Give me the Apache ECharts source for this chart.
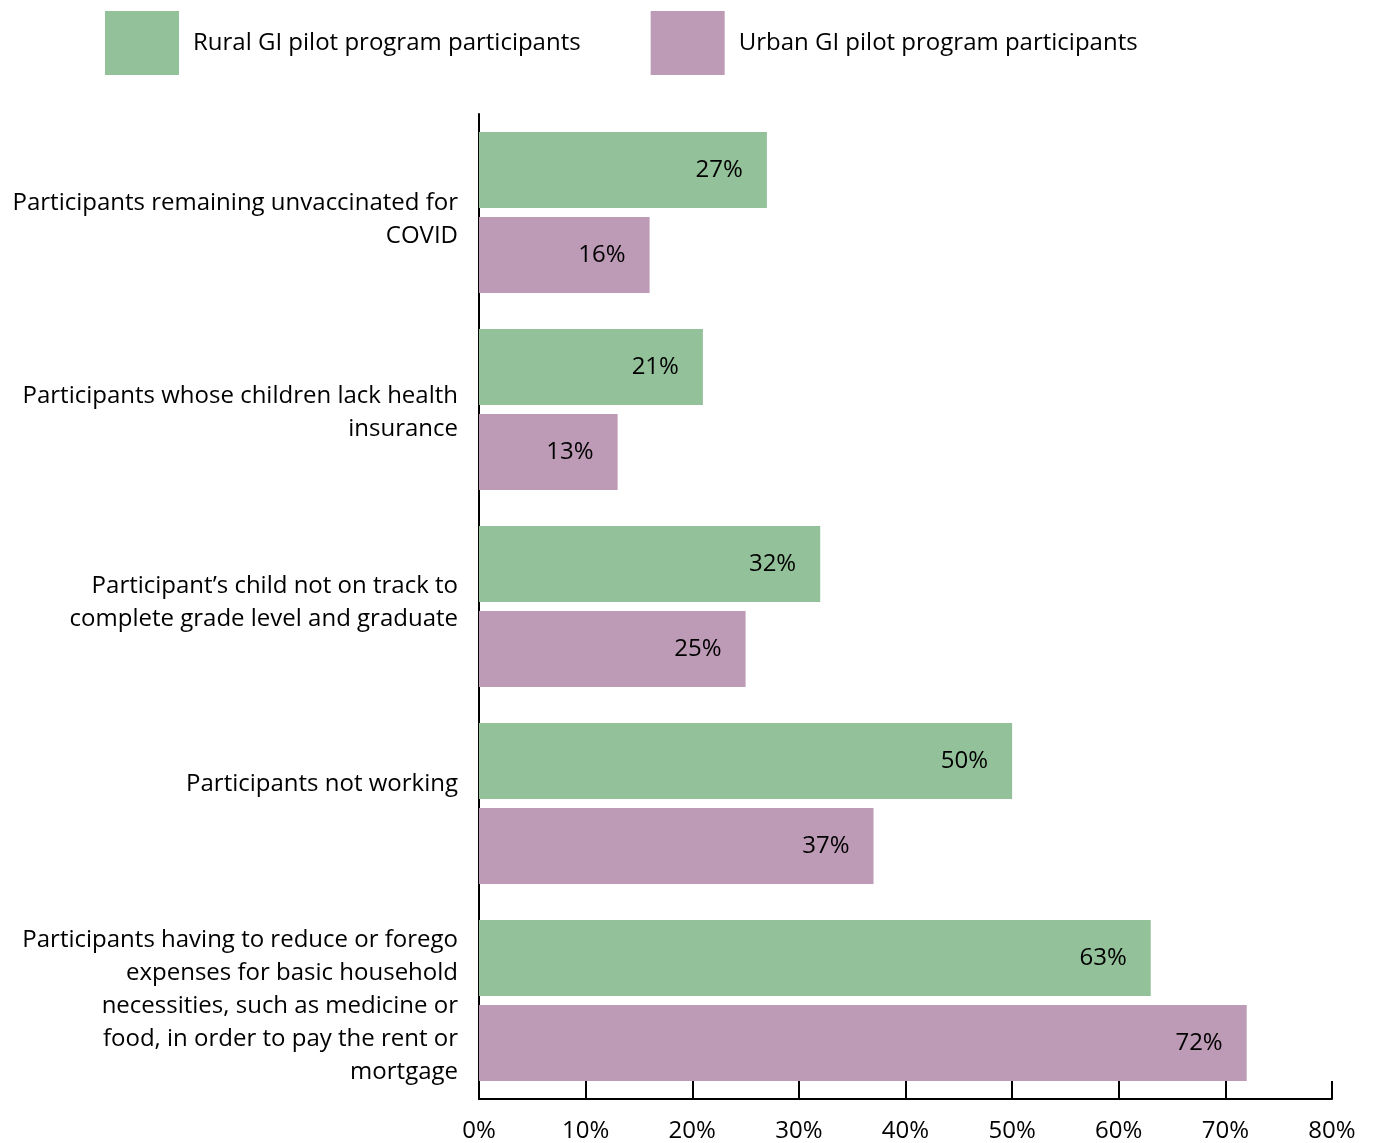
<!DOCTYPE html>
<html><head><meta charset="utf-8">
<script src="https://cdn.jsdelivr.net/npm/echarts@6/dist/echarts.min.js"></script>
<style>html,body{margin:0;padding:0;background:#fff}#c{width:1375px;height:1143px}</style>
</head><body><div id="c"></div>
<script>
var categories = [
  "Participants remaining unvaccinated for\nCOVID",
  "Participants whose children lack health\ninsurance",
  "Participant\u2019s child not on track to\ncomplete grade level and graduate",
  "Participants not working",
  "Participants having to reduce or forego\nexpenses for basic household\nnecessities, such as medicine or\nfood, in order to pay the rent or\nmortgage"
];
var seriesNames = ["Rural GI pilot program participants", "Urban GI pilot program participants"];
var rural = [27, 21, 32, 50, 63];
var urban = [16, 13, 25, 37, 72];
var xTicks = [0, 10, 20, 30, 40, 50, 60, 70, 80];

var FONT = "Open Sans";
var FS = 24;
// vertical nudges (px) of the category labels, as placed in the original
var nudge = [7, 3, -4, -19, 6];
var rich = {};
nudge.forEach(function (d, i) {
  rich['s' + i] = {fontSize: 1, lineHeight: Math.max(1, 2 * Math.abs(d)), height: Math.max(1, 2 * Math.abs(d))};
});

var chart = echarts.init(document.getElementById('c'), null, {renderer: 'canvas'});
chart.setOption({
  animation: false,
  textStyle: {fontFamily: FONT},
  legend: {
    left: 100, top: 6, itemWidth: 74, itemHeight: 64, itemGap: 70,
    icon: 'rect',
    textStyle: {fontSize: FS, color: '#000', fontFamily: FONT, padding: [0,0,0,9]},
    data: seriesNames
  },
  grid: {left: 479, right: 43, top: 114, bottom: 41, containLabel: false},
  xAxis: {
    type: 'value', min: xTicks[0], max: xTicks[xTicks.length-1], interval: 10,
    axisLine: {show: true, lineStyle: {color: '#000', width: 2}},
    axisTick: {show: true, inside: true, length: 18, lineStyle: {color: '#000', width: 2}},
    splitLine: {show: false},
    axisLabel: {fontSize: FS, color: '#000', margin: 20, formatter: '{value}%', fontFamily: FONT}
  },
  yAxis: {
    type: 'category', inverse: true, data: categories,
    axisLine: {show: true, lineStyle: {color: '#000', width: 2}},
    axisTick: {show: false},
    axisLabel: {
      fontSize: FS, color: '#000', margin: 21, lineHeight: 33, align: 'right', fontFamily: FONT,
      rich: rich,
      formatter: function (v, i) {
        var d = nudge[i];
        var sp = '{s' + i + '| }';
        return d >= 0 ? sp + '\n' + v : v + '\n' + sp;
      }
    }
  },
  series: [
    {name: seriesNames[0], type: 'bar', data: rural, barWidth: 76, barGap: '12%',
     itemStyle: {color: '#93C199'},
     label: {show: true, position: 'insideRight', distance: 24, color: '#000', fontSize: FS, formatter: '{c}%', fontFamily: FONT}},
    {name: seriesNames[1], type: 'bar', data: urban, barWidth: 76, barGap: '12%',
     itemStyle: {color: '#BD9AB5'},
     label: {show: true, position: 'insideRight', distance: 24, color: '#000', fontSize: FS, formatter: '{c}%', fontFamily: FONT}}
  ]
});
</script></body></html>
